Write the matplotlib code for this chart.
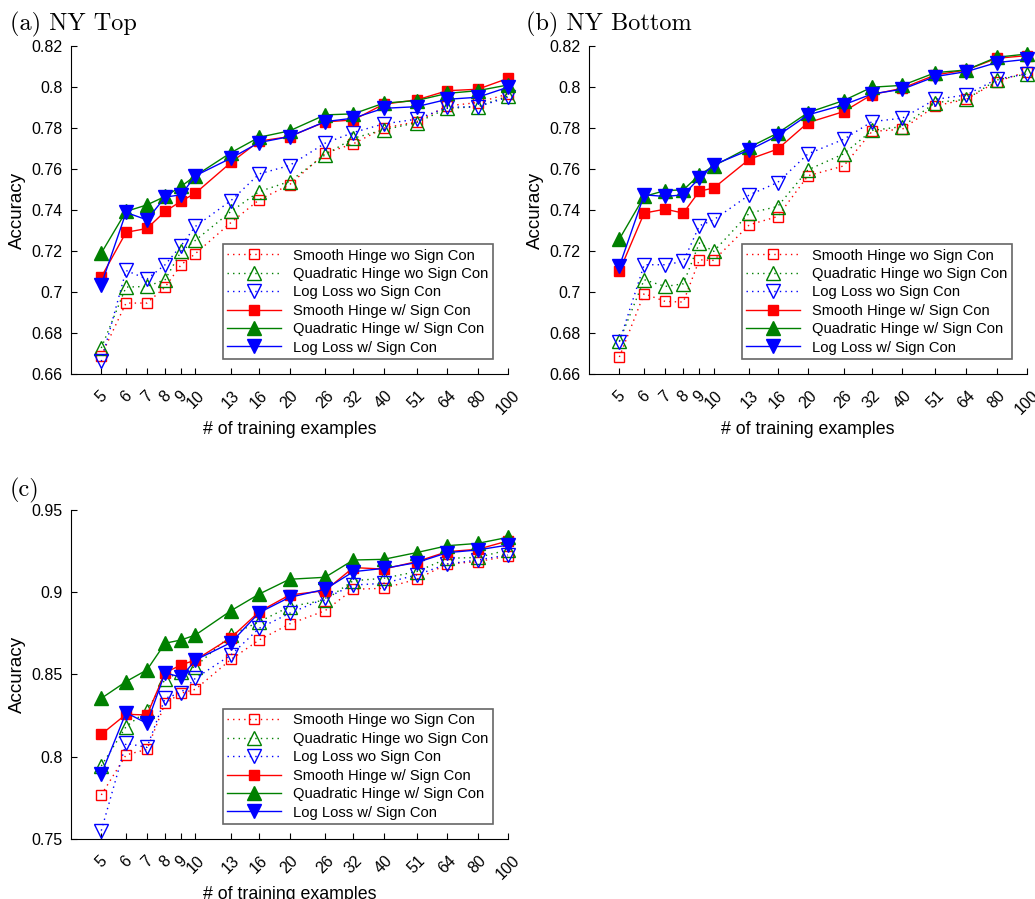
import matplotlib
matplotlib.use("Agg")
import matplotlib.pyplot as plt

plt.rcParams['font.family'] = ['Liberation Sans', 'DejaVu Sans']

x_vals = [5, 6, 7, 8, 9, 10, 13, 16, 20, 26, 32, 40, 51, 64, 80, 100]
x_labels = [str(v) for v in x_vals]

series_names = [
    "Smooth Hinge wo Sign Con",
    "Quadratic Hinge wo Sign Con",
    "Log Loss wo Sign Con",
    "Smooth Hinge w/ Sign Con",
    "Quadratic Hinge w/ Sign Con",
    "Log Loss w/ Sign Con",
]

# Panel (a) NY Top
a_smooth_wo = [0.669, 0.6946, 0.6946, 0.7024, 0.7133, 0.7187, 0.7339, 0.745, 0.7523, 0.7677, 0.7723, 0.7799, 0.7831, 0.7908, 0.7924, 0.7966]
a_quad_wo = [0.6727, 0.7024, 0.7027, 0.706, 0.7198, 0.7252, 0.7393, 0.749, 0.7539, 0.7669, 0.775, 0.7791, 0.7826, 0.7896, 0.7904, 0.7956]
a_log_wo = [0.6662, 0.7105, 0.7063, 0.7133, 0.7226, 0.732, 0.7446, 0.7576, 0.7617, 0.7726, 0.7778, 0.782, 0.7843, 0.7901, 0.7904, 0.795]
a_smooth_w = [0.7073, 0.7291, 0.731, 0.7393, 0.7443, 0.7482, 0.7632, 0.7736, 0.7758, 0.783, 0.7839, 0.7916, 0.7937, 0.7982, 0.7989, 0.8042]
a_quad_w = [0.719, 0.7393, 0.7425, 0.7466, 0.7515, 0.7567, 0.768, 0.7755, 0.7786, 0.7864, 0.7869, 0.7921, 0.7934, 0.7969, 0.7982, 0.801]
a_log_w = [0.7036, 0.7388, 0.7352, 0.7463, 0.7474, 0.7567, 0.7653, 0.7729, 0.7758, 0.7831, 0.7848, 0.7896, 0.7904, 0.794, 0.795, 0.7999]

# Panel (b) NY Bottom
b_smooth_wo = [0.6683, 0.6992, 0.6954, 0.6951, 0.7157, 0.7154, 0.7328, 0.7368, 0.7567, 0.7615, 0.7783, 0.7794, 0.7908, 0.794, 0.8026, 0.8075]
b_quad_wo = [0.676, 0.706, 0.7027, 0.704, 0.7239, 0.7198, 0.7385, 0.7417, 0.7596, 0.7674, 0.7788, 0.7807, 0.7924, 0.794, 0.8034, 0.8064]
b_log_wo = [0.6757, 0.7133, 0.7133, 0.7149, 0.7323, 0.7352, 0.7474, 0.7534, 0.7674, 0.7745, 0.7831, 0.7848, 0.794, 0.7961, 0.8038, 0.8064]
b_smooth_w = [0.7101, 0.7385, 0.7404, 0.7385, 0.7492, 0.7507, 0.7648, 0.7697, 0.7826, 0.788, 0.7963, 0.7994, 0.8059, 0.8083, 0.814, 0.8153]
b_quad_w = [0.7258, 0.7466, 0.7495, 0.7498, 0.7571, 0.7615, 0.7706, 0.7775, 0.7875, 0.7934, 0.7999, 0.8008, 0.807, 0.8083, 0.8145, 0.8161]
b_log_w = [0.7125, 0.7474, 0.7466, 0.7474, 0.7555, 0.762, 0.7693, 0.7762, 0.7864, 0.7913, 0.7966, 0.7989, 0.8051, 0.8075, 0.8119, 0.8135]

# Panel (c)
c_smooth_wo = [0.7768, 0.8011, 0.8045, 0.8325, 0.8386, 0.841, 0.8592, 0.871, 0.8807, 0.8888, 0.9018, 0.9024, 0.9079, 0.9172, 0.9186, 0.922]
c_quad_wo = [0.7944, 0.8183, 0.828, 0.8471, 0.8517, 0.8548, 0.874, 0.8821, 0.8912, 0.8953, 0.907, 0.9085, 0.9125, 0.9206, 0.9212, 0.9257]
c_log_wo = [0.7551, 0.8082, 0.8057, 0.8355, 0.839, 0.8477, 0.8619, 0.8781, 0.8872, 0.8963, 0.9044, 0.9054, 0.9105, 0.9172, 0.9196, 0.9227]
c_smooth_w = [0.8136, 0.8258, 0.8254, 0.8511, 0.8558, 0.8588, 0.8724, 0.8882, 0.8983, 0.901, 0.915, 0.9141, 0.9186, 0.9247, 0.9261, 0.9312]
c_quad_w = [0.8355, 0.8457, 0.8528, 0.869, 0.871, 0.874, 0.8888, 0.8989, 0.9079, 0.9091, 0.9196, 0.92, 0.9241, 0.9283, 0.9297, 0.9334]
c_log_w = [0.7895, 0.8268, 0.8203, 0.8511, 0.8483, 0.8588, 0.8694, 0.8876, 0.8969, 0.9018, 0.9125, 0.9145, 0.918, 0.9241, 0.9257, 0.9287]

RED = (1, 0, 0)
GREEN = (0, 0.5, 0)
BLUE = (0, 0, 1)
DOT = (0, (1, 3))

styles = [
    dict(color=RED, ls=DOT, marker='s', mfc='none', ms=7.5),
    dict(color=GREEN, ls=DOT, marker='^', mfc='none', ms=10),
    dict(color=BLUE, ls=DOT, marker='v', mfc='none', ms=10),
    dict(color=RED, ls='-', marker='s', mfc=RED, ms=7.5),
    dict(color=GREEN, ls='-', marker='^', mfc=GREEN, ms=10),
    dict(color=BLUE, ls='-', marker='v', mfc=BLUE, ms=10),
]

W, H = 1035, 899
fig = plt.figure(figsize=(W / 100, H / 100), dpi=100)

def px_axes(l, r, t, b):
    return fig.add_axes([l / W, 1 - b / H, (r - l) / W, (b - t) / H])

panels = [
    (px_axes(71, 508, 46, 374), [a_smooth_wo, a_quad_wo, a_log_wo, a_smooth_w, a_quad_w, a_log_w],
     (0.66, 0.82), [0.66, 0.68, 0.70, 0.72, 0.74, 0.76, 0.78, 0.80, 0.82],
     ["0.66", "0.68", "0.7", "0.72", "0.74", "0.76", "0.78", "0.8", "0.82"]),
    (px_axes(589, 1027, 46, 374), [b_smooth_wo, b_quad_wo, b_log_wo, b_smooth_w, b_quad_w, b_log_w],
     (0.66, 0.82), [0.66, 0.68, 0.70, 0.72, 0.74, 0.76, 0.78, 0.80, 0.82],
     ["0.66", "0.68", "0.7", "0.72", "0.74", "0.76", "0.78", "0.8", "0.82"]),
    (px_axes(71, 508, 510, 839), [c_smooth_wo, c_quad_wo, c_log_wo, c_smooth_w, c_quad_w, c_log_w],
     (0.75, 0.95), [0.75, 0.80, 0.85, 0.90, 0.95],
     ["0.75", "0.8", "0.85", "0.9", "0.95"]),
]

for ax, data, ylim, yt, ytl in panels:
    for name, ys, st in zip(series_names, data, styles):
        ax.plot(x_vals, ys, label=name, linewidth=1.0, color=st['color'], linestyle=st['ls'],
                marker=st['marker'], markerfacecolor=st['mfc'], markeredgecolor=st['color'],
                markersize=st['ms'], markeredgewidth=1.0, clip_on=False)
    ax.set_xscale('log')
    ax.set_xlim(4, 100)
    ax.set_ylim(*ylim)
    ax.set_xticks(x_vals)
    ax.set_xticklabels(x_labels, rotation=45, fontsize=11.5)
    ax.minorticks_off()
    ax.set_yticks(yt)
    ax.set_yticklabels(ytl, fontsize=11.5)
    ax.tick_params(direction='in', length=4, width=0.8)
    ax.tick_params(axis='x', pad=10)
    ax.tick_params(axis='y', pad=6)
    ax.spines['top'].set_visible(False)
    ax.spines['right'].set_visible(False)
    ax.set_xlabel("# of training examples", fontsize=12.8, labelpad=3)
    ax.set_ylabel("Accuracy", fontsize=13.5, labelpad=4)
    leg = ax.legend(loc='lower right', bbox_to_anchor=(0.9657, 0.0457), borderaxespad=0,
                    fontsize=10.6, fancybox=False, framealpha=1, edgecolor=(0.4, 0.4, 0.4),
                    handlelength=3.7, labelspacing=0.3, borderpad=0.3, handletextpad=0.8)
    leg.get_frame().set_linewidth(1.2)

fig.text(10 / W, 1 - 30 / H, "(a) NY Top", fontsize=17.5, family='cmr10', va='baseline')
fig.text(526 / W, 1 - 30 / H, "(b) NY Bottom", fontsize=17.5, family='cmr10', va='baseline')
fig.text(10 / W, 1 - 496 / H, "(c)", fontsize=17.5, family='cmr10', va='baseline')

fig.savefig("out.png", dpi=100)
